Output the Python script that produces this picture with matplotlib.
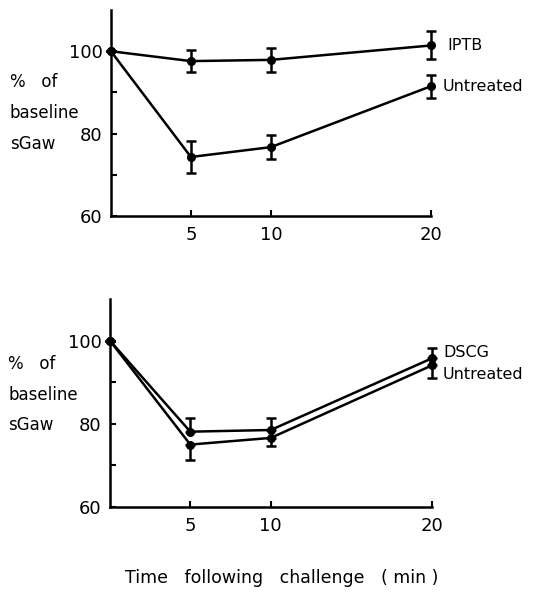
import numpy as np
import matplotlib.pyplot as plt
from matplotlib.ticker import FixedLocator

# Datos (tiempo en min, % de sGaw basal)
tiempo = [0, 5, 10, 20]

iptb = [100, 97.6, 97.9, 101.4]
iptb_err = [0, 2.6, 3.0, 3.4]
untreated_a = [100, 74.3, 76.7, 91.5]
untreated_a_err = [0, 4.0, 2.9, 2.8]

dscg = [100, 78.1, 78.5, 95.7]
dscg_err_up = [0, 3.3, 2.9, 2.6]
untreated_b = [100, 75.0, 76.6, 94.0]
untreated_b_err_dn = [0, 3.7, 1.9, 3.0]

xticks = [5, 10, 20]
yticks = [60, 80, 100]
yminor = [70, 90]

plt.rcParams['font.family'] = 'DejaVu Sans'
fig = plt.figure(figsize=(5.41, 5.93), dpi=100)

ax1 = fig.add_axes([0.205, 0.636, 0.5915, 0.347])
ax2 = fig.add_axes([0.203, 0.145, 0.595, 0.351])

estilo = dict(color='black', lw=1.8, marker='o', ms=5.5, capsize=3.5,
              elinewidth=1.8, capthick=1.8, clip_on=False)

ax1.errorbar(tiempo, iptb, yerr=iptb_err, **estilo)
ax1.errorbar(tiempo, untreated_a, yerr=untreated_a_err, **estilo)
ax1.text(21.0, iptb[-1], 'IPTB', fontsize=11.5, va='center')
ax1.text(20.75, untreated_a[-1], 'Untreated', fontsize=11.5, va='center')

ax2.errorbar(tiempo, dscg, yerr=[np.zeros(4), dscg_err_up], **estilo)
ax2.errorbar(tiempo, untreated_b, yerr=[untreated_b_err_dn, np.zeros(4)], **estilo)
ax2.text(20.7, 97.2, 'DSCG', fontsize=11.5, va='center')
ax2.text(20.7, 91.8, 'Untreated', fontsize=11.5, va='center')

for ax, ylab in ((ax1, 0.5), (ax2, 0.54)):
    ax.set_xlim(0, 20)
    ax.set_ylim(60, 110)
    ax.set_xticks(xticks)
    ax.set_yticks(yticks)
    ax.yaxis.set_minor_locator(FixedLocator(yminor))
    ax.tick_params(direction='in', length=4, width=1.5, labelsize=13, pad=6)
    ax.tick_params(axis='y', which='minor', direction='in', length=4, width=1.5)
    ax.tick_params(axis='x', pad=7)
    for s in ('top', 'right'):
        ax.spines[s].set_visible(False)
    for s in ('left', 'bottom'):
        ax.spines[s].set_linewidth(1.8)
    ax.text(-0.316, ylab, '%   of\nbaseline\nsGaw', transform=ax.transAxes,
            fontsize=12, va='center', ha='left', linespacing=1.9)

fig.text(0.52, 0.025, 'Time   following   challenge   ( min )', ha='center',
         va='center', fontsize=12.5)

fig.savefig('out.png', dpi=100)
